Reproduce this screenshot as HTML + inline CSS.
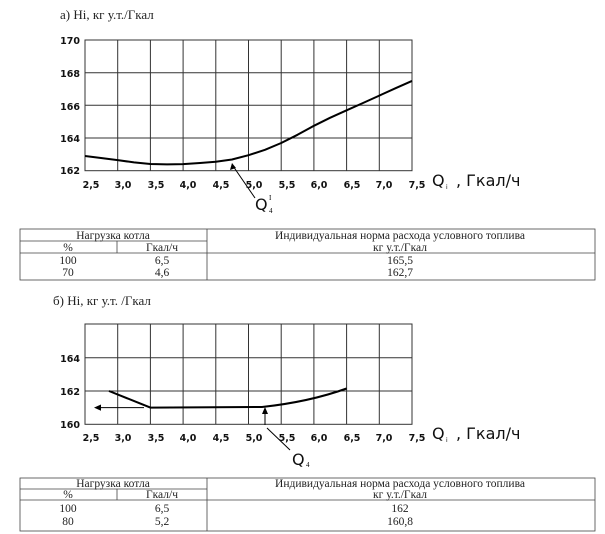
<!DOCTYPE html>
<html><head><meta charset="utf-8"><style>
body{margin:0;background:#fff;}
svg{display:block}
.t{font-family:"Liberation Serif",serif;font-size:13px;fill:#222}
.tk{font-family:"DejaVu Sans",sans-serif;font-weight:bold;font-size:9.5px;fill:#111}
.q{font-family:"DejaVu Sans",sans-serif;font-size:16px;fill:#111}
.tb{font-family:"Liberation Serif",serif;font-size:11.5px;fill:#222}
</style></head><body>
<svg width="605" height="534" viewBox="0 0 605 534" xmlns="http://www.w3.org/2000/svg">
<text class="t" x="60" y="19">а) Hi,  кг у.т./Гкал</text>
<g stroke="#333" stroke-width="1" fill="none">
<rect x="85" y="40" width="327" height="130.7"/>
<path d="M117.7 40V170.7M150.4 40V170.7M183.1 40V170.7M215.8 40V170.7M248.5 40V170.7M281.2 40V170.7M313.9 40V170.7M346.6 40V170.7M379.3 40V170.7"/>
<path d="M85 72.7H412M85 105.3H412M85 138H412"/>
</g>
<polyline points="85,156 101,158 117.7,160.1 134,162.4 150.4,164 167,164.4 183.1,164.1 200,163 215.8,161.7 232,159.5 248.5,155.2 265,149.8 281.2,143 297.5,134.8 313.9,125.8 330,117.8 346.6,110.3 363,103 379.3,95.6 395.6,88.2 412,80.9" stroke="#000" stroke-width="2" fill="none" stroke-linejoin="round"/>
<path d="M255 198 L233 166" stroke="#000" stroke-width="1"/>
<path d="M232 163 L230 170 L236 168Z" fill="#000"/>
<g class="tk" text-anchor="end">
<text x="80" y="44">170</text><text x="80" y="77">168</text><text x="80" y="110">166</text><text x="80" y="142">164</text><text x="80" y="174">162</text>
</g>
<g class="tk" text-anchor="middle">
<text x="91" y="188">2,5</text><text x="123" y="188">3,0</text><text x="156" y="188">3,5</text><text x="188" y="188">4,0</text><text x="221" y="188">4,5</text><text x="254" y="188">5,0</text><text x="287" y="188">5,5</text><text x="319" y="188">6,0</text><text x="352" y="188">6,5</text><text x="384" y="188">7,0</text><text x="417" y="188">7,5</text>
</g>
<text class="q" x="432" y="186">Q</text><text x="446" y="189" font-size="6" font-family="DejaVu Sans">i</text><text class="q" x="456" y="186">, Гкал/ч</text>
<text class="q" x="255" y="210">Q</text><text x="269" y="200" font-size="7" font-family="Liberation Serif">I</text><text x="269" y="213" font-size="7" font-family="Liberation Serif">4</text>

<g stroke="#444" stroke-width="0.8" fill="none">
<rect x="20" y="229" width="575" height="51"/>
<path d="M207 229V280M117 241V253M20 241H207M20 253H595"/>
</g>
<g class="tb" text-anchor="middle">
<text x="113" y="239">Нагрузка котла</text>
<text x="68" y="251">%</text><text x="162" y="251">Гкал/ч</text>
<text x="400" y="239">Индивидуальная норма расхода условного топлива</text>
<text x="400" y="251">кг у.т./Гкал</text>
<text x="68" y="264">100</text><text x="162" y="264">6,5</text><text x="400" y="264">165,5</text>
<text x="68" y="276">70</text><text x="162" y="276">4,6</text><text x="400" y="276">162,7</text>
</g>

<text class="t" x="53" y="305">б) Hi, кг у.т. /Гкал</text>
<g stroke="#333" stroke-width="1" fill="none">
<rect x="85" y="324" width="327" height="100.3"/>
<path d="M117.7 324V424.3M150.4 324V424.3M183.1 324V424.3M215.8 324V424.3M248.5 324V424.3M281.2 324V424.3M313.9 324V424.3M346.6 324V424.3M379.3 324V424.3"/>
<path d="M85 357.7H412M85 391H412"/>
</g>
<path d="M109 391 L150.4 407.6 L262 407 C290 404 320 398 346.6 388.5" stroke="#000" stroke-width="2" fill="none"/>
<path d="M144 407.6 H100" stroke="#000" stroke-width="1"/>
<path d="M94 407.6 L101 404.5 L101 410.7Z" fill="#000"/>
<path d="M265 425 V412" stroke="#000" stroke-width="1"/>
<path d="M265 407 L262 414 L268 414Z" fill="#000"/>
<path d="M290 450 L267 428" stroke="#000" stroke-width="1"/>
<g class="tk" text-anchor="end">
<text x="80" y="362">164</text><text x="80" y="395">162</text><text x="80" y="428">160</text>
</g>
<g class="tk" text-anchor="middle">
<text x="91" y="441">2,5</text><text x="123" y="441">3,0</text><text x="156" y="441">3,5</text><text x="188" y="441">4,0</text><text x="221" y="441">4,5</text><text x="254" y="441">5,0</text><text x="287" y="441">5,5</text><text x="319" y="441">6,0</text><text x="352" y="441">6,5</text><text x="384" y="441">7,0</text><text x="417" y="441">7,5</text>
</g>
<text class="q" x="432" y="439">Q</text><text x="446" y="442" font-size="6" font-family="DejaVu Sans">i</text><text class="q" x="456" y="439">, Гкал/ч</text>
<text class="q" x="292" y="465">Q</text><text x="306" y="467" font-size="7" font-family="Liberation Serif">4</text>

<g stroke="#444" stroke-width="0.8" fill="none">
<rect x="20" y="478" width="575" height="53"/>
<path d="M207 478V531M117 489V500M20 489H207M20 500H595"/>
</g>
<g class="tb" text-anchor="middle">
<text x="113" y="487">Нагрузка котла</text>
<text x="68" y="498">%</text><text x="162" y="498">Гкал/ч</text>
<text x="400" y="487">Индивидуальная норма расхода условного топлива</text>
<text x="400" y="498">кг у.т./Гкал</text>
<text x="68" y="512">100</text><text x="162" y="512">6,5</text><text x="400" y="512">162</text>
<text x="68" y="525">80</text><text x="162" y="525">5,2</text><text x="400" y="525">160,8</text>
</g>
</svg>
</body></html>
